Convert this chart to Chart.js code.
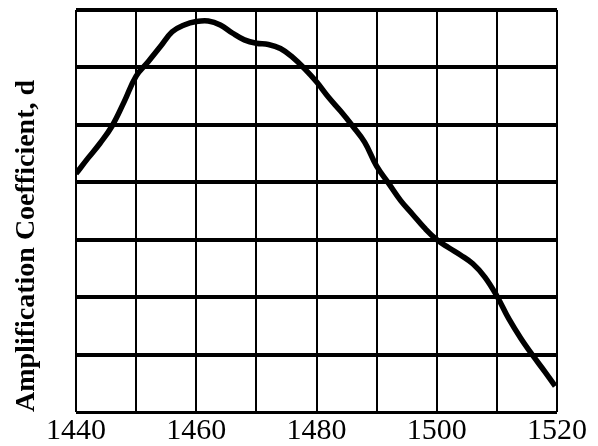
<!DOCTYPE html>
<html>
<head>
<meta charset="utf-8">
<script src="https://cdn.jsdelivr.net/npm/chart.js@4"></script>
<style>
  html, body { margin: 0; padding: 0; background: #fff; }
  #wrap { width: 598px; height: 446px; }
</style>
</head>
<body>
<div id="wrap"><canvas id="myChart"></canvas></div>
<script>
const wavelength = [1440, 1442, 1444, 1446, 1448, 1450, 1452, 1454, 1456, 1458,
    1460, 1462, 1464, 1466, 1468, 1470, 1472, 1474, 1476, 1478,
    1480, 1482, 1484, 1486, 1488, 1490, 1492, 1494, 1496, 1498,
    1500, 1502, 1504, 1506, 1508, 1510, 1512, 1514, 1516, 1518, 1519.7];
const amplification = [4.15, 4.42, 4.68, 4.98, 5.40, 5.85, 6.10, 6.36, 6.62, 6.74,
    6.80, 6.81, 6.74, 6.60, 6.48, 6.42, 6.40, 6.33, 6.18, 5.98,
    5.75, 5.48, 5.24, 4.98, 4.70, 4.28, 3.98, 3.68, 3.44, 3.20,
    3.00, 2.86, 2.73, 2.58, 2.35, 2.02, 1.62, 1.28, 0.98, 0.70, 0.45];
const xTicks = [1440, 1460, 1480, 1500, 1520];
const yTitle = 'Amplification Coefficient, d';

Chart.defaults.font.family = '"Liberation Serif", "Times New Roman", serif';
Chart.defaults.color = '#000';

const ctx = document.getElementById('myChart').getContext('2d');
new Chart(ctx, {
    type: 'line',
    data: {
        datasets: [{
            data: wavelength.map((w, i) => ({ x: w, y: amplification[i] })),
            borderColor: '#000',
            borderWidth: 5.5,
            pointRadius: 0,
            tension: 0.4,
            fill: false
        }]
    },
    options: {
        responsive: true,
        maintainAspectRatio: false,
        animation: false,
        layout: { padding: { top: 10, right: 41, left: 0, bottom: 0 } },
        plugins: { legend: { display: false }, tooltip: { enabled: false } },
        scales: {
            x: {
                type: 'linear',
                min: 1440,
                max: 1520,
                border: { display: false },
                grid: { color: '#000', lineWidth: 2, drawTicks: false },
                ticks: {
                    stepSize: 10,
                    autoSkip: false,
                    maxRotation: 0,
                    padding: 1,
                    font: { size: 30 },
                    callback: v => xTicks.includes(v) ? String(v) : ''
                },
                afterFit: s => { s.height = 34; }
            },
            y: {
                min: 0,
                max: 7,
                border: { display: false },
                grid: {
                    color: '#000',
                    drawTicks: false,
                    lineWidth: c => c.tick && c.tick.value === 0 ? 3 : 4
                },
                ticks: { stepSize: 1, display: false },
                title: {
                    display: true,
                    text: yTitle,
                    align: 'start',
                    font: { size: 28, weight: 'bold' },
                    padding: { top: 10, bottom: 0 }
                },
                afterFit: s => { s.width = 76; }
            }
        }
    }
});
</script>
</body>
</html>
